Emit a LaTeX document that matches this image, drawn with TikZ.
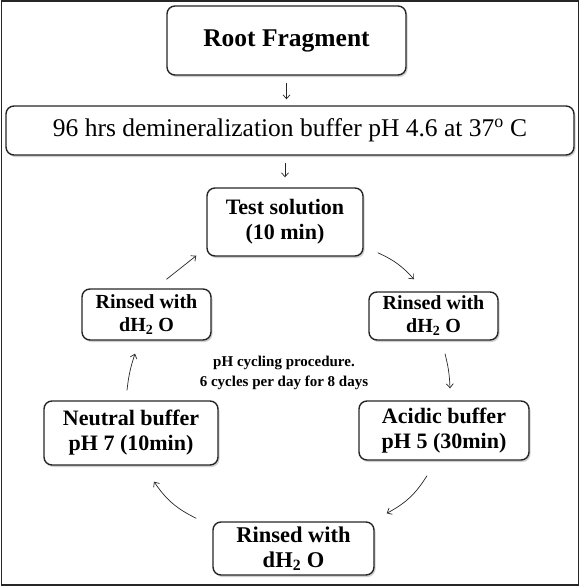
\documentclass[tikz,border=0pt]{standalone}
\usepackage{fontspec}
\setmainfont{Liberation Serif}
\usetikzlibrary{arrows.meta,shadows,calc}

\tikzset{
    box/.style={draw=black!85, line width=1.4pt, rounded corners=8pt, fill=white,
        align=center, inner sep=0pt,
        drop shadow={shadow xshift=1.5pt, shadow yshift=-2pt, opacity=0.3, fill=black!60}},
    arr/.style={-{Straight Barb[length=4pt,width=7pt]}, line width=0.7pt, draw=black!85},
}
\newcommand{\bigtxt}{\fontsize{25.5}{28}\selectfont}
\newcommand{\boxtxt}{\fontsize{22}{25}\selectfont\bfseries}
\newcommand{\rinsetxt}{\fontsize{20}{23}\selectfont\bfseries}

\begin{document}
\begin{tikzpicture}[x=1pt,y=-1pt]
    \useasboundingbox (0,0) rectangle (580,586);
    \draw[line width=1.5pt, black!85] (1.5,1) rectangle (578.5,585);

    \node[box, minimum width=239pt, minimum height=69pt, font=\bigtxt\bfseries] (A) at (286.5,40.5) {Root Fragment};
    \node[box, minimum width=568pt, minimum height=49pt, font=\bigtxt] (B) at (290,130.5)
        {96 hrs demineralization buffer pH 4.6 at 37\textsuperscript{o} C};

    \draw[arr, shorten <=7pt, shorten >=6pt] (A.south) -- (A.south |- B.north);

    % the cycle
    \node[box, minimum width=156pt, minimum height=68pt, font=\boxtxt] (C) at (285,222) {Test solution\\(10 min)};
    \node[box, minimum width=129pt, minimum height=48pt, font=\rinsetxt] (D) at (433.5,316) {Rinsed with\\dH\textsubscript{2} O};
    \node[box, minimum width=170pt, minimum height=59pt, font=\boxtxt] (E) at (444,430.5) {Acidic buffer\\pH 5 (30min)};
    \node[box, minimum width=161pt, minimum height=53pt, font=\fontsize{22.5}{25}\selectfont\bfseries] (F) at (293.5,548.5) {Rinsed with\\dH\textsubscript{2} O};
    \node[box, minimum width=174pt, minimum height=64pt, font=\boxtxt] (G) at (131,433) {Neutral buffer\\pH 7 (10min)};
    \node[box, minimum width=129pt, minimum height=51pt, font=\rinsetxt] (H) at (146.5,314.5) {Rinsed with\\dH\textsubscript{2} O};

    \node[align=center, font=\fontsize{15}{20}\selectfont\bfseries] (I) at (284,373) {pH cycling procedure.\\6 cycles per day for 8 days};

    \draw[arr, shorten <=7pt, shorten >=10pt] (C.north |- B.south) -- (C.north);
    \draw[arr] ($(C.south east)+(14,-4)$) to[bend left=12] ($(D.north)+(-19.5,-12)$);
    \draw[arr] ($(D.south)+(11.5,13)$) to[bend left=6] ($(E.north)+(6,-12)$);
    \draw[arr] ($(E.south)+(-17,15)$) to[bend left=15] ($(F.north east)+(12,-8)$);
    \draw[arr] ($(F.north west)+(-16,-3)$) to[bend left=15] ($(G.south)+(23,16)$);
    \draw[arr] ($(G.north)+(-4,-10)$) to[bend left=6] ($(H.south)+(-11.5,13)$);
    \draw[arr] ($(H.north)+(20,-9)$) -- ($(C.south west)+(-10,-1)$);

\end{tikzpicture}
\end{document}
